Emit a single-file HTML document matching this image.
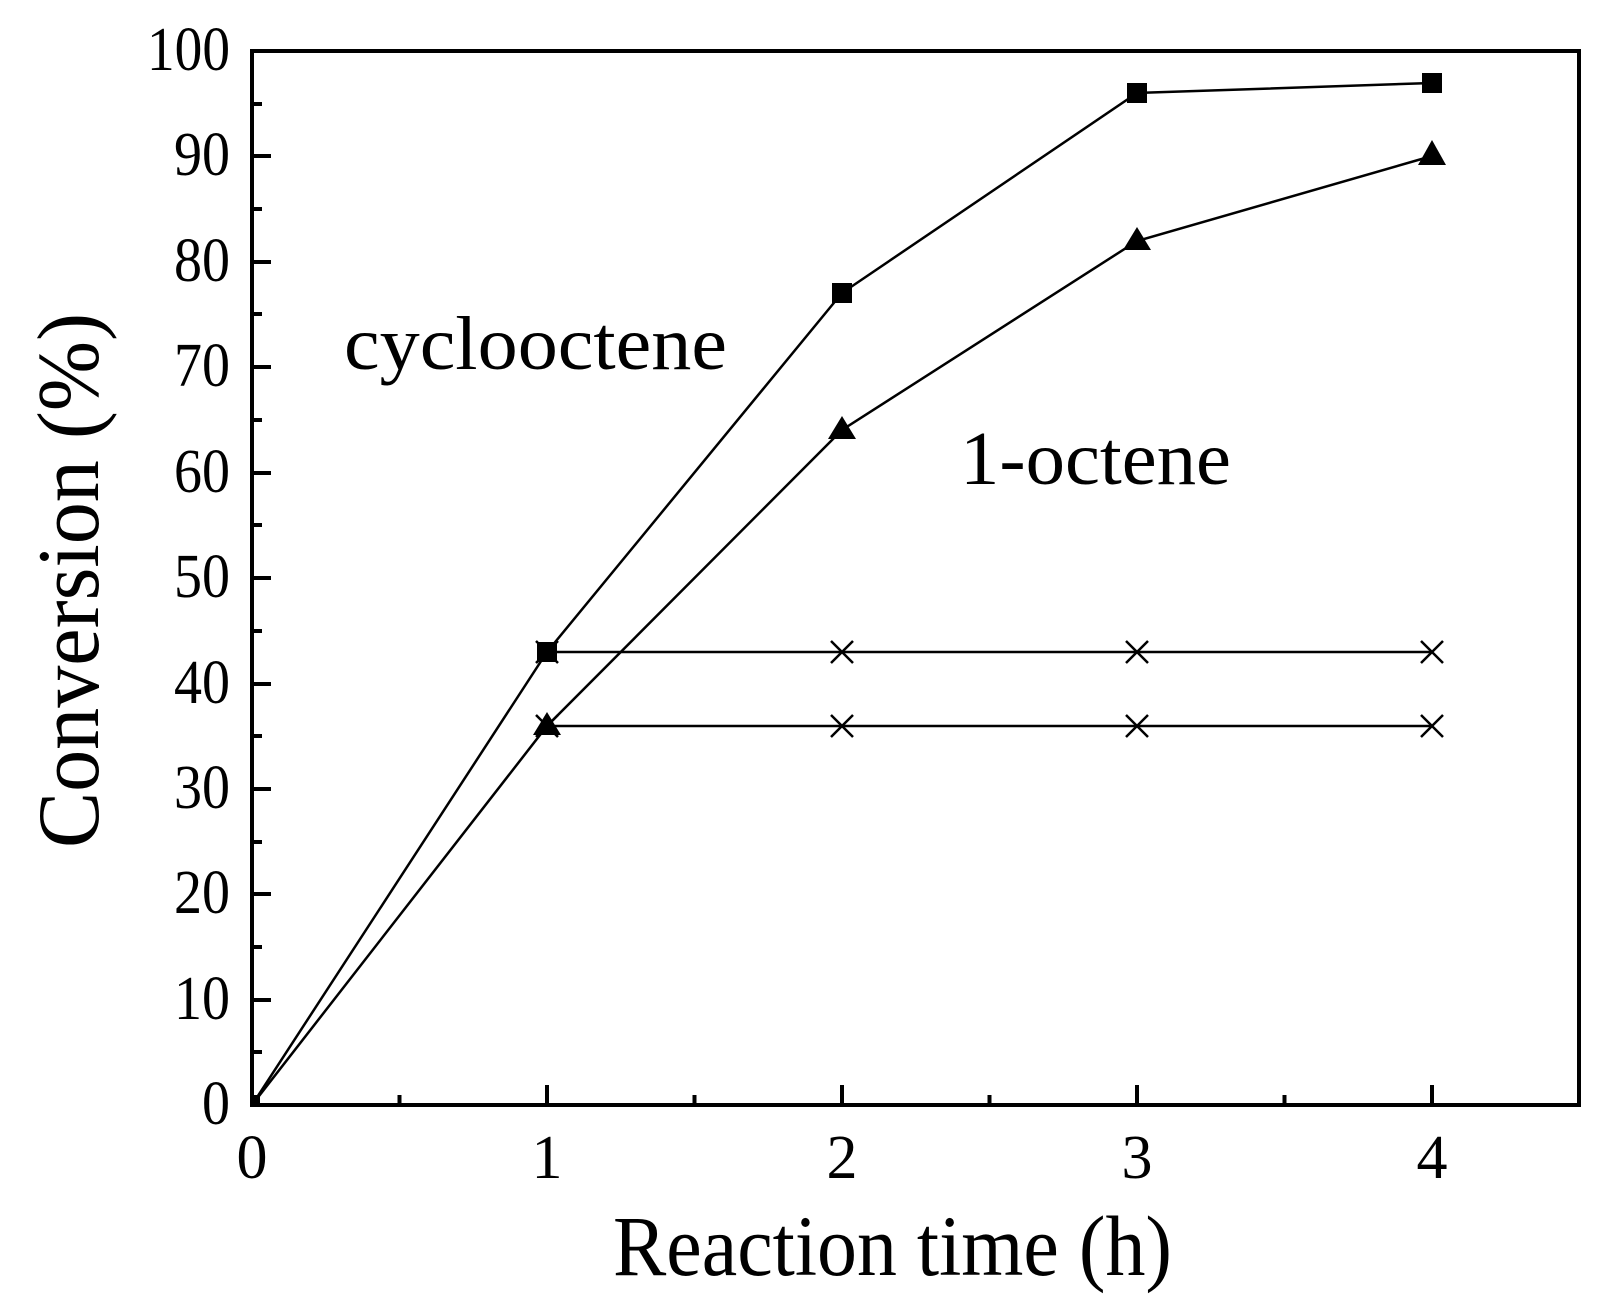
<!DOCTYPE html>
<html><head><meta charset="utf-8"><style>html,body{margin:0;padding:0;background:#fff}svg{display:block}</style></head>
<body>
<svg width="1613" height="1309" viewBox="0 0 1613 1309" xmlns="http://www.w3.org/2000/svg" font-family="Liberation Serif, serif">
<rect width="1613" height="1309" fill="#fff"/>
<g stroke="#000" stroke-width="2.5" fill="none">
<polyline points="252,1105 547,652 842,293 1137,93 1432,83"/>
<polyline points="252,1105 547,726 842,430 1137,241 1432,156"/>
<line x1="547" y1="652" x2="1432" y2="652"/>
<line x1="547" y1="726" x2="1432" y2="726"/>
</g>
<g stroke="#000" stroke-width="2.5">
<path d="M536,641 L558,663 M558,641 L536,663 M831,641 L853,663 M853,641 L831,663 M1126,641 L1148,663 M1148,641 L1126,663 M1421,641 L1443,663 M1443,641 L1421,663"/>
<path d="M536,715 L558,737 M558,715 L536,737 M831,715 L853,737 M853,715 L831,737 M1126,715 L1148,737 M1148,715 L1126,737 M1421,715 L1443,737 M1443,715 L1421,737"/>
</g>
<g fill="#000">
<rect x="537" y="642" width="20" height="20"/><rect x="832" y="283" width="20" height="20"/><rect x="1127" y="83" width="20" height="20"/><rect x="1422" y="73" width="20" height="20"/>
<polygon points="547,712 533,735 561,735"/><polygon points="842,416 828,439 856,439"/><polygon points="1137,227 1123,250 1151,250"/><polygon points="1432,140 1418,165 1446,165"/>
<rect x="250" y="1095" width="10" height="10"/>
</g>
<rect x="252" y="51" width="1327" height="1054" fill="none" stroke="#000" stroke-width="4"/>
<g stroke="#000" stroke-width="4">
<path d="M252,51h19M252,156h19M252,262h19M252,367h19M252,473h19M252,578h19M252,684h19M252,789h19M252,894h19M252,1000h19"/>
<path d="M252,104h10M252,209h10M252,314h10M252,420h10M252,525h10M252,631h10M252,736h10M252,842h10M252,947h10M252,1052h10"/>
<path d="M547,1105v-20M842,1105v-20M1137,1105v-20M1432,1105v-20"/>
<path d="M399.5,1105v-10M694.5,1105v-10M989.5,1105v-10M1284.5,1105v-10"/>
</g>
<g font-size="62" text-anchor="end">
<text x="230" y="70" textLength="83" lengthAdjust="spacingAndGlyphs">100</text>
<text x="230" y="175" textLength="56" lengthAdjust="spacingAndGlyphs">90</text>
<text x="230" y="281" textLength="56" lengthAdjust="spacingAndGlyphs">80</text>
<text x="230" y="386" textLength="56" lengthAdjust="spacingAndGlyphs">70</text>
<text x="230" y="492" textLength="56" lengthAdjust="spacingAndGlyphs">60</text>
<text x="230" y="597" textLength="56" lengthAdjust="spacingAndGlyphs">50</text>
<text x="230" y="703" textLength="56" lengthAdjust="spacingAndGlyphs">40</text>
<text x="230" y="808" textLength="56" lengthAdjust="spacingAndGlyphs">30</text>
<text x="230" y="913" textLength="56" lengthAdjust="spacingAndGlyphs">20</text>
<text x="230" y="1019" textLength="56" lengthAdjust="spacingAndGlyphs">10</text>
<text x="230" y="1124" textLength="28" lengthAdjust="spacingAndGlyphs">0</text>
</g>
<g font-size="62" text-anchor="middle">
<text x="252" y="1178">0</text><text x="547" y="1178">1</text><text x="842" y="1178">2</text><text x="1137" y="1178">3</text><text x="1432" y="1178">4</text>
</g>
<text x="613" y="1275" font-size="86" textLength="559" lengthAdjust="spacingAndGlyphs">Reaction time (h)</text>
<text transform="translate(98,848) rotate(-90)" font-size="88" textLength="535" lengthAdjust="spacingAndGlyphs">Conversion (%)</text>
<text x="344" y="369" font-size="76" textLength="383" lengthAdjust="spacingAndGlyphs">cyclooctene</text>
<text x="960" y="484" font-size="76" textLength="271" lengthAdjust="spacingAndGlyphs">1-octene</text>
</svg>
</body></html>
